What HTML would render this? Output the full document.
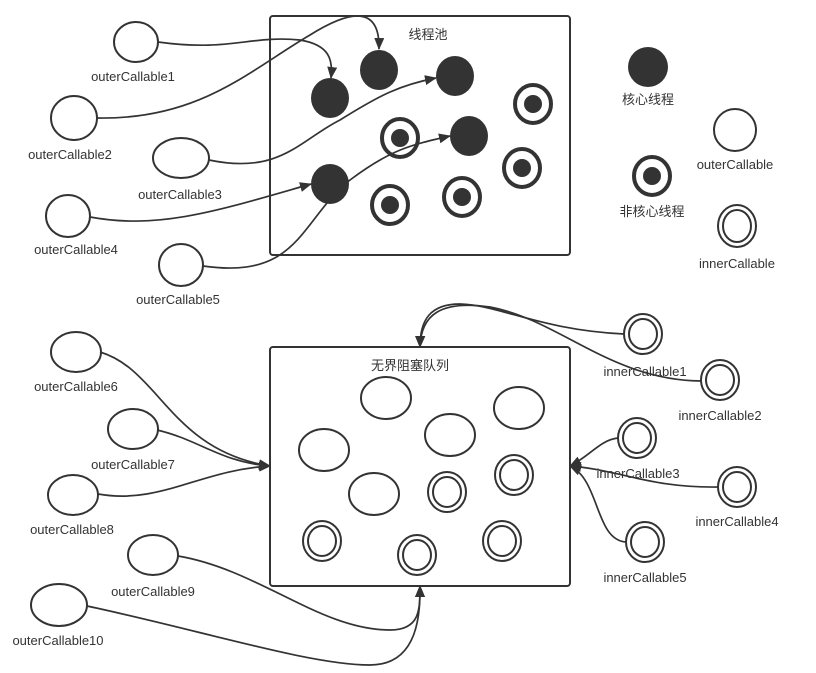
<!DOCTYPE html>
<html><head><meta charset="utf-8"><style>
html,body{margin:0;padding:0;background:#fff;width:816px;height:673px;overflow:hidden}
text{font-family:"Liberation Sans","Noto Sans CJK SC",sans-serif;font-size:13px;fill:#333;text-anchor:middle}
</style></head><body>
<svg width="816" height="673" viewBox="0 0 816 673" xmlns="http://www.w3.org/2000/svg">
<defs><marker id="a" markerWidth="12" markerHeight="12" refX="11" refY="5" orient="auto" markerUnits="userSpaceOnUse"><path d="M0,0 L12,5 L0,10 Z" fill="#333"/></marker></defs>
<g fill="none" stroke="#333" stroke-width="2">
<rect x="270" y="16" width="300" height="239" rx="3"/>
<rect x="270" y="347" width="300" height="239" rx="3"/>
</g>
<text x="428" y="39">线程池</text>
<text x="410" y="370">无界阻塞队列</text>
<g fill="#333">
<ellipse cx="330" cy="98" rx="19" ry="20"/>
<ellipse cx="379" cy="70" rx="19" ry="20"/>
<ellipse cx="455" cy="76" rx="19" ry="20"/>
<ellipse cx="469" cy="136" rx="19" ry="20"/>
<ellipse cx="330" cy="184" rx="19" ry="20"/>
<ellipse cx="648" cy="67" rx="20" ry="20"/>
</g>
<g fill="none" stroke="#333" stroke-width="4">
<ellipse cx="533" cy="104" rx="18" ry="19"/>
<ellipse cx="400" cy="138" rx="18" ry="19"/>
<ellipse cx="522" cy="168" rx="18" ry="19"/>
<ellipse cx="390" cy="205" rx="18" ry="19"/>
<ellipse cx="462" cy="197" rx="18" ry="19"/>
<ellipse cx="652" cy="176" rx="18" ry="19"/>
</g>
<g fill="#333">
<circle cx="533" cy="104" r="9"/><circle cx="400" cy="138" r="9"/><circle cx="522" cy="168" r="9"/><circle cx="390" cy="205" r="9"/><circle cx="462" cy="197" r="9"/><circle cx="652" cy="176" r="9"/>
</g>
<g fill="none" stroke="#333" stroke-width="2">
<ellipse cx="136" cy="42" rx="22" ry="20"/>
<ellipse cx="74" cy="118" rx="23" ry="22"/>
<ellipse cx="181" cy="158" rx="28" ry="20"/>
<ellipse cx="68" cy="216" rx="22" ry="21"/>
<ellipse cx="181" cy="265" rx="22" ry="21"/>
<ellipse cx="735" cy="130" rx="21" ry="21"/>
<ellipse cx="76" cy="352" rx="25" ry="20"/>
<ellipse cx="133" cy="429" rx="25" ry="20"/>
<ellipse cx="73" cy="495" rx="25" ry="20"/>
<ellipse cx="153" cy="555" rx="25" ry="20"/>
<ellipse cx="59" cy="605" rx="28" ry="21"/>
<ellipse cx="386" cy="398" rx="25" ry="21"/>
<ellipse cx="324" cy="450" rx="25" ry="21"/>
<ellipse cx="450" cy="435" rx="25" ry="21"/>
<ellipse cx="519" cy="408" rx="25" ry="21"/>
<ellipse cx="374" cy="494" rx="25" ry="21"/>
</g>
<g fill="none" stroke="#333" stroke-width="2">
<ellipse cx="737" cy="226" rx="19" ry="21"/><ellipse cx="737" cy="226" rx="14" ry="16"/>
<ellipse cx="447" cy="492" rx="19" ry="20"/><ellipse cx="447" cy="492" rx="14" ry="15"/>
<ellipse cx="514" cy="475" rx="19" ry="20"/><ellipse cx="514" cy="475" rx="14" ry="15"/>
<ellipse cx="322" cy="541" rx="19" ry="20"/><ellipse cx="322" cy="541" rx="14" ry="15"/>
<ellipse cx="417" cy="555" rx="19" ry="20"/><ellipse cx="417" cy="555" rx="14" ry="15"/>
<ellipse cx="502" cy="541" rx="19" ry="20"/><ellipse cx="502" cy="541" rx="14" ry="15"/>
<ellipse cx="643" cy="334" rx="19" ry="20"/><ellipse cx="643" cy="334" rx="14" ry="15"/>
<ellipse cx="720" cy="380" rx="19" ry="20"/><ellipse cx="720" cy="380" rx="14" ry="15"/>
<ellipse cx="637" cy="438" rx="19" ry="20"/><ellipse cx="637" cy="438" rx="14" ry="15"/>
<ellipse cx="737" cy="487" rx="19" ry="20"/><ellipse cx="737" cy="487" rx="14" ry="15"/>
<ellipse cx="645" cy="542" rx="19" ry="20"/><ellipse cx="645" cy="542" rx="14" ry="15"/>
</g>
<g fill="none" stroke="#333" stroke-width="1.7" marker-end="url(#a)">
<path d="M158,42 C230,52 250,35 300,40 C330,45 333,60 331,78"/>
<path d="M97,118 C200,120 250,70 310,35 C350,10 380,5 379,49"/>
<path d="M209,160 C280,175 300,140 340,120 C380,95 400,85 436,78"/>
<path d="M90,217 C160,230 220,210 311,184"/>
<path d="M203,266 C300,280 300,220 350,180 C390,150 410,145 450,136"/>
<path d="M100,352 C160,370 170,450 270,466"/>
<path d="M157,430 C200,440 220,462 270,466"/>
<path d="M98,494 C160,505 200,470 270,466"/>
<path d="M178,556 C260,570 320,630 390,630 C420,630 420,610 420,586"/>
<path d="M87,606 C200,630 310,665 370,665 C420,665 420,610 420,586"/>
<path d="M624,334 C540,330 500,305 460,304 C430,304 420,320 420,347"/>
<path d="M701,381 C610,380 560,320 490,307 C440,300 421,315 420,347"/>
<path d="M618,438 C600,440 590,456 570,466"/>
<path d="M718,487 C650,488 620,470 570,466"/>
<path d="M626,542 C595,540 600,480 570,466"/>
</g>
<text x="133" y="81">outerCallable1</text>
<text x="70" y="159">outerCallable2</text>
<text x="180" y="199">outerCallable3</text>
<text x="76" y="254">outerCallable4</text>
<text x="178" y="304">outerCallable5</text>
<text x="76" y="391">outerCallable6</text>
<text x="133" y="469">outerCallable7</text>
<text x="72" y="534">outerCallable8</text>
<text x="153" y="596">outerCallable9</text>
<text x="58" y="645">outerCallable10</text>
<text x="645" y="376">innerCallable1</text>
<text x="720" y="420">innerCallable2</text>
<text x="638" y="478">innerCallable3</text>
<text x="737" y="526">innerCallable4</text>
<text x="645" y="582">innerCallable5</text>
<text x="648" y="104">核心线程</text>
<text x="652" y="216">非核心线程</text>
<text x="735" y="169">outerCallable</text>
<text x="737" y="268">innerCallable</text>
</svg>
</body></html>
